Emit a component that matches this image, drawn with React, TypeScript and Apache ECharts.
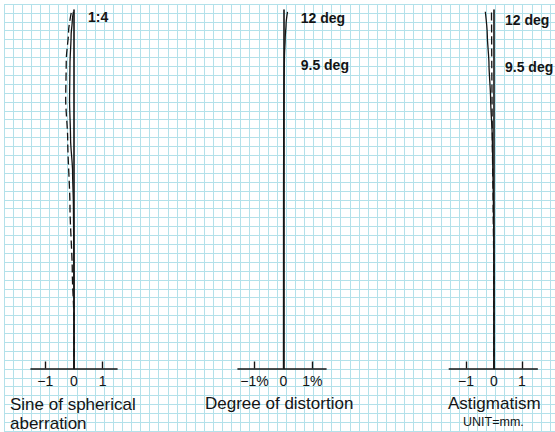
import React, { useEffect, useRef } from "react";
import * as echarts from "echarts";

// Relative height (0 = axis, 1 = edge of pupil / field) and aberration values
const saHeights = [0, 0.2, 0.3, 0.45, 0.55, 0.64, 0.75, 0.85, 0.93, 0.97, 0.995];
const saValues = [0, 0, -0.005, -0.02, -0.05, -0.12, -0.155, -0.14, -0.1, -0.06, -0.02];
const sineHeights = [0, 0.13, 0.27, 0.45, 0.64, 0.75, 0.86, 0.94, 0.995];
const sineValues = [0, 0, -0.06, -0.14, -0.22, -0.29, -0.27, -0.19, -0.09];
const distHeights = [0, 0.5, 0.7, 0.8, 0.87, 0.92, 0.96, 0.995];
const distValues = [0, 0.003, 0.01, 0.02, 0.035, 0.06, 0.09, 0.14];
const astSolidHeights = [0, 0.3, 0.45, 0.6, 0.64, 0.75, 0.85, 0.93, 0.995];
const astSolidValues = [0, 0, -0.02, -0.05, -0.06, -0.12, -0.18, -0.24, -0.31];
const astDashedHeights = [0, 0.3, 0.45, 0.64, 0.75, 0.85, 0.93, 0.995];
const astDashedValues = [0, -0.01, -0.03, -0.06, -0.07, -0.08, -0.085, -0.09];

const tickValues = [-1, 0, 1];
const plainTickLabels = ["\u22121", "0", "1"];
const percentTickLabels = ["\u22121%", "0", "1%"];

const zip = (xs: number[], ys: number[]) => xs.map((x, i) => [x, ys[i]]);

const FONT = "'Liberation Sans', Arial, Helvetica, sans-serif";
const INK = "#141414";
const PAPER = "#b3e1ea";

export default function App() {
  const ref = useRef<HTMLDivElement>(null);
  useEffect(() => {
    if (!ref.current) return;
    const chart = echarts.init(ref.current, undefined, { renderer: "svg" });

    const panels = [
      { left: 31, width: 86, min: -1.5, max: 1.5, labels: plainTickLabels },
      { left: 238, width: 88, min: -1.57, max: 1.47, labels: percentTickLabels },
      { left: 449.3, width: 88, min: -1.6, max: 1.55, labels: plainTickLabels },
    ];

    const grids: any[] = [{ left: 4, top: 4, right: 0, bottom: 0 }];
    const xAxes: any[] = [
      {
        type: "value", gridIndex: 0, min: 0, max: 551, interval: 9.1,
        axisLine: { show: false }, axisTick: { show: false }, axisLabel: { show: false },
        splitLine: { show: true, lineStyle: { color: PAPER, width: 1 } },
      },
    ];
    const yAxes: any[] = [
      {
        type: "value", gridIndex: 0, min: 0, max: 428, interval: 8.9, inverse: true,
        axisLine: { show: false }, axisTick: { show: false }, axisLabel: { show: false },
        splitLine: { show: true, lineStyle: { color: PAPER, width: 1 } },
      },
    ];

    panels.forEach((p, i) => {
      const gi = i + 1;
      grids.push({ left: p.left, width: p.width, top: 10, bottom: 63.5 });
      xAxes.push({
        type: "value", gridIndex: gi, min: p.min, max: p.max,
        axisLine: { show: true, lineStyle: { color: INK, width: 1.6 } },
        axisTick: { show: true, inside: true, length: 7, customValues: [-1, 1], lineStyle: { color: INK, width: 1.4 } },
        axisLabel: {
          show: true, customValues: tickValues, margin: 5, fontSize: 14, color: INK, fontFamily: FONT,
          formatter: (v: number) => p.labels[tickValues.indexOf(Math.round(v))] ?? "",
        },
        splitLine: { show: false },
      });
      yAxes.push({
        type: "value", gridIndex: gi, min: 0, max: 1,
        axisLine: { show: true, onZero: true, lineStyle: { color: INK, width: 1.6 } },
        axisTick: { show: false }, axisLabel: { show: false }, splitLine: { show: false },
      });
    });

    const line = (idx: number, xs: number[], ys: number[], dashed: boolean) => ({
      type: "line",
      xAxisIndex: idx,
      yAxisIndex: idx,
      data: zip(xs, ys),
      showSymbol: false,
      symbol: "none",
      smooth: 0.25,
      smoothMonotone: "y",
      z: 5,
      lineStyle: { color: INK, width: 1.3, type: dashed ? [8, 4] : "solid" },
    });

    const txt = (text: string, x: number, y: number, size: number, weight: string = "normal") => ({
      type: "text",
      x, y, z: 10,
      style: {
        text, x: 0, y: 0, fill: INK,
        font: `${weight} ${size}px ${FONT}`,
        align: "left", verticalAlign: "middle",
        textAlign: "left", textVerticalAlign: "middle",
      },
    });

    chart.setOption({
      animation: false,
      backgroundColor: "#ffffff",
      grid: grids,
      xAxis: xAxes,
      yAxis: yAxes,
      series: [
        line(1, saValues, saHeights, false),
        line(1, sineValues, sineHeights, true),
        line(2, distValues, distHeights, false),
        line(3, astSolidValues, astSolidHeights, false),
        line(3, astDashedValues, astDashedHeights, true),
      ],
      graphic: [
        txt("1:4", 88, 17, 14, "bold"),
        txt("12 deg", 300.7, 18, 14, "bold"),
        txt("9.5 deg", 300.7, 65, 14, "bold"),
        txt("12 deg", 505, 20, 14, "bold"),
        txt("9.5 deg", 505, 67, 14, "bold"),
        txt("Sine of spherical", 10, 404, 17),
        txt("aberration", 10, 423, 17),
        txt("Degree of distortion", 205, 403, 17),
        txt("Astigmatism", 448, 403, 17),
        txt("UNIT=mm.", 463, 422, 12.5),
      ],
    });
    return () => chart.dispose();
  }, []);
  return <div ref={ref} style={{ position: "fixed", left: 0, top: 0, width: 555, height: 432 }} />;
}
